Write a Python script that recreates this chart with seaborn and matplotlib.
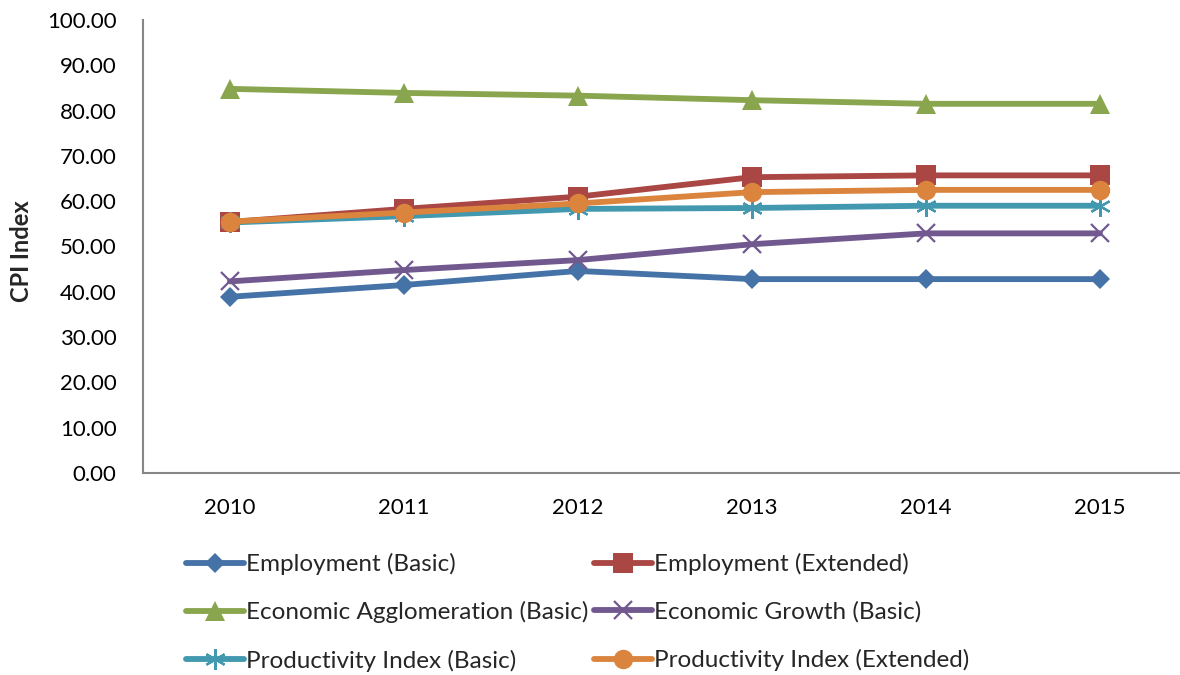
import matplotlib
matplotlib.use("Agg")
import matplotlib.pyplot as plt
import seaborn as sns
import pandas as pd

years = ["2010", "2011", "2012", "2013", "2014", "2015"]

employment_basic = [38.9, 41.5, 44.6, 42.8, 42.8, 42.8]
employment_extended = [55.4, 58.3, 61.0, 65.3, 65.7, 65.7]
econ_agglomeration_basic = [84.8, 83.9, 83.3, 82.3, 81.5, 81.5]
econ_growth_basic = [42.3, 44.8, 47.0, 50.5, 52.9, 52.9]
productivity_basic = [55.3, 56.7, 58.3, 58.5, 59.0, 59.0]
productivity_extended = [55.5, 57.5, 59.5, 62.0, 62.5, 62.5]

series_names = [
    "Employment (Basic)",
    "Employment (Extended)",
    "Economic Agglomeration (Basic)",
    "Economic Growth (Basic)",
    "Productivity Index (Basic)",
    "Productivity Index (Extended)",
]
series_values = [
    employment_basic,
    employment_extended,
    econ_agglomeration_basic,
    econ_growth_basic,
    productivity_basic,
    productivity_extended,
]

colors = ["#4572A7", "#AA4643", "#89A54E", "#71588F", "#4198AF", "#DB843D"]
styles = [
    dict(marker="D", markersize=10, markeredgewidth=0),
    dict(marker="s", markersize=14, markeredgewidth=0),
    dict(marker="^", markersize=15, markeredgewidth=0),
    dict(marker="x", markersize=13, markeredgewidth=1.6),
    dict(marker=(6, 2, 0), markersize=15, markeredgewidth=1.6),
    dict(marker="o", markersize=14, markeredgewidth=0),
]

rows = []
for name, vals in zip(series_names, series_values):
    for i, v in enumerate(vals):
        rows.append({"series": name, "pos": i, "value": v})
df = pd.DataFrame(rows)

sns.set_theme(style="white")
plt.rcParams["font.family"] = ["Lato", "DejaVu Sans"]

fig = plt.figure(figsize=(11.8, 6.75), dpi=100)
ax = fig.add_axes([143 / 1180, 1 - 473 / 675, 1 - 143 / 1180, (473 - 20) / 675])

handles = []
for name, color, st in zip(series_names, colors, styles):
    sub = df[df["series"] == name]
    sns.lineplot(data=sub, x="pos", y="value", ax=ax, color=color,
                 linewidth=4.2, markeredgecolor=color, legend=False,
                 solid_capstyle="round", **st)
    handles.append(ax.lines[-1])

ax.set_xlim(-0.5, 5.46)
ax.set_ylim(0, 100)
ax.set_yticks(range(0, 101, 10))
ax.set_yticklabels([f"{v:.2f}" for v in range(0, 101, 10)])
ax.set_xticks(range(len(years)))
ax.set_xticklabels(years)
ax.tick_params(axis="y", length=0, pad=19, labelsize=16, labelcolor="#000000")
ax.tick_params(axis="x", length=0, pad=18, labelsize=16, labelcolor="#000000")
ax.set_xlabel("")
ax.set_ylabel("CPI Index", fontsize=17, fontweight="bold")
ax.yaxis.set_label_coords(-0.106, 0.49)

for side in ["top", "right"]:
    ax.spines[side].set_visible(False)
for side in ["left", "bottom"]:
    ax.spines[side].set_color("#868686")
    ax.spines[side].set_linewidth(1.5)

order = [0, 2, 4, 1, 3, 5]
leg = fig.legend([handles[i] for i in order], [series_names[i] for i in order],
                 loc="upper left", bbox_to_anchor=(186 / 1180, 1 - 553 / 675),
                 ncol=2, frameon=False, fontsize=17.5, handlelength=2.4,
                 handletextpad=0.08, columnspacing=0.2, labelspacing=1.08,
                 borderaxespad=0, borderpad=0)

fig.savefig("out.png", dpi=100)
